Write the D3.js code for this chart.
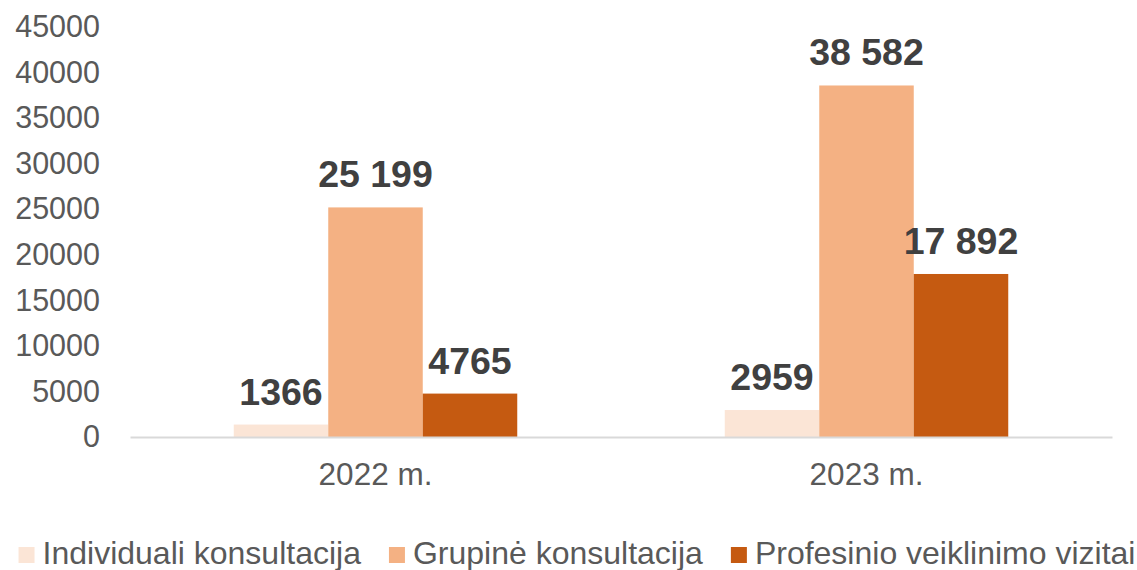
<!DOCTYPE html>
<html>
<head>
<meta charset="utf-8">
<script src="https://cdn.jsdelivr.net/npm/d3@7"></script>
<style>
  body { margin: 0; background: #fff; }
  svg text { font-family: "Liberation Sans", Arial, sans-serif; }
</style>
</head>
<body>
<svg id="bar-chart" width="1137" height="570"></svg>
<script>
// Data
const years = ["2022 m.", "2023 m."];
const seriesNames = ["Individuali konsultacija", "Grupinė konsultacija", "Profesinio veiklinimo vizitai"];
const individuali = [1366, 2959];
const grupine = [25199, 38582];
const profesinio = [4765, 17892];
const valueLabels = [["1366", "2959"], ["25 199", "38 582"], ["4765", "17 892"]];
const yTicks = [0, 5000, 10000, 15000, 20000, 25000, 30000, 35000, 40000, 45000];
const colors = ["#FBE5D6", "#F4B183", "#C55A11"];

function createBarChart() {
  const svg = d3.select("#bar-chart");
  const series = [individuali, grupine, profesinio];

  const margin = { top: 27, right: 25, bottom: 133, left: 130 };
  const width = +svg.attr("width") - margin.left - margin.right;
  const height = +svg.attr("height") - margin.top - margin.bottom;

  // Scales
  const x0 = d3
    .scaleBand()
    .domain(years)
    .range([margin.left, margin.left + width])
    .paddingInner(0.4226)
    .paddingOuter(0.2113);

  const x1 = d3
    .scaleBand()
    .domain(seriesNames)
    .range([0, x0.bandwidth()]);

  const yScale = d3
    .scaleLinear()
    .domain([0, 45000])
    .range([height + margin.top, margin.top]);

  // Y labels (no line, no ticks)
  const yAxis = svg
    .append("g")
    .attr("transform", `translate(${margin.left - 30}, 0)`)
    .call(d3.axisLeft(yScale).tickValues(yTicks).tickSize(0).tickPadding(0).tickFormat(d3.format("d")));
  yAxis.select(".domain").remove();
  yAxis.selectAll("text")
    .attr("fill", "#595959")
    .style("font-size", "30.5px")
    .style("font-family", '"Liberation Sans", Arial, sans-serif');

  // Bars
  const groups = svg
    .selectAll(".group")
    .data(years)
    .enter()
    .append("g")
    .attr("class", "group")
    .attr("transform", (d) => `translate(${x0(d)}, 0)`);

  groups.each(function (year, yi) {
    const g = d3.select(this);
    seriesNames.forEach((name, si) => {
      const v = series[si][yi];
      g.append("rect")
        .attr("x", x1(name))
        .attr("y", yScale(v))
        .attr("width", x1.bandwidth())
        .attr("height", yScale(0) - yScale(v))
        .attr("fill", colors[si]);
      g.append("text")
        .attr("x", x1(name) + x1.bandwidth() / 2)
        .attr("y", yScale(v) - 20)
        .attr("text-anchor", "middle")
        .attr("fill", "#404040")
        .style("font-size", "37.5px")
        .style("font-weight", "bold")
        .text(valueLabels[si][yi]);
    });
  });

  // X axis
  const xAxis = svg
    .append("g")
    .attr("transform", `translate(0, ${height + margin.top})`)
    .call(d3.axisBottom(x0).tickSize(0).tickPadding(26).tickSizeOuter(0));
  xAxis.select(".domain").attr("stroke", "#D9D9D9").attr("stroke-width", 2);
  xAxis.selectAll("text")
    .attr("fill", "#595959")
    .style("font-size", "31.5px")
    .style("font-family", '"Liberation Sans", Arial, sans-serif');

  // Legend
  const legend = svg.append("g").attr("class", "legend");
  const items = legend
    .selectAll(".item")
    .data(seriesNames)
    .enter()
    .append("g")
    .attr("class", "item");
  items.append("rect")
    .attr("width", 16)
    .attr("height", 16)
    .attr("y", -17)
    .attr("fill", (d, i) => colors[i]);
  items.append("text")
    .attr("x", 24)
    .attr("y", 0)
    .attr("fill", "#595959")
    .style("font-size", "32px")
    .text((d) => d);

  let widths = [];
  items.each(function () {
    widths.push(24 + d3.select(this).select("text").node().getComputedTextLength());
  });
  const gap = 28;
  const total = d3.sum(widths) + gap * (widths.length - 1);
  let cx = 577 - total / 2;
  items.attr("transform", (d, i) => {
    const t = `translate(${cx}, 564)`;
    cx += widths[i] + gap;
    return t;
  });
}

createBarChart();
</script>
</body>
</html>
